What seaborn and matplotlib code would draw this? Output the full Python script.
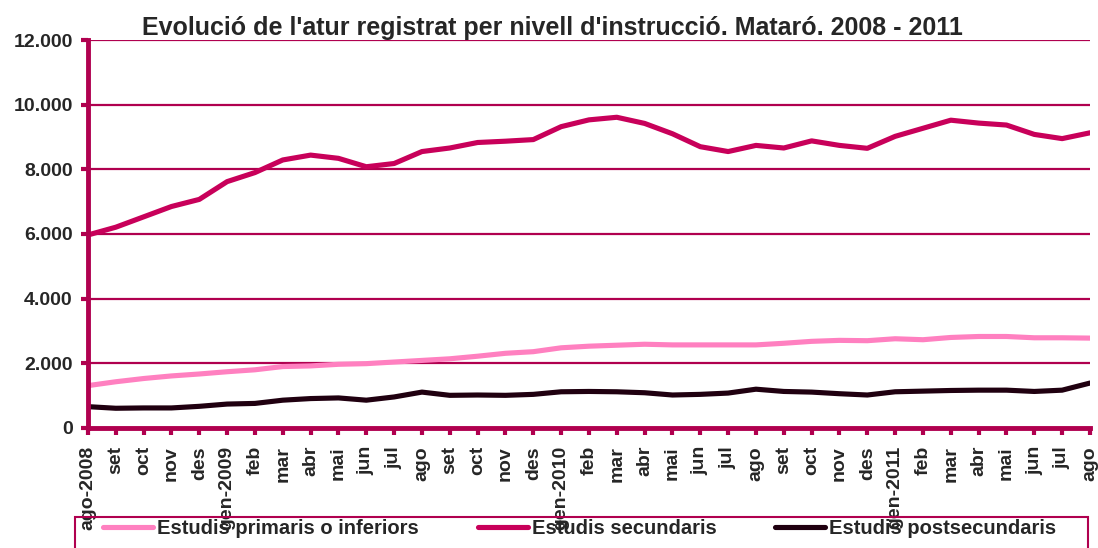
import matplotlib
matplotlib.use("Agg")
import pandas as pd
import seaborn as sns
import matplotlib.pyplot as plt
from matplotlib.patches import Rectangle

# ---------- Dades ----------
mesos = ["ago-2008", "set", "oct", "nov", "des",
         "gen-2009", "feb", "mar", "abr", "mai", "jun", "jul", "ago", "set", "oct", "nov", "des",
         "gen-2010", "feb", "mar", "abr", "mai", "jun", "jul", "ago", "set", "oct", "nov", "des",
         "gen-2011", "feb", "mar", "abr", "mai", "jun", "jul", "ago"]

primaris = [1310, 1430, 1530, 1610, 1670, 1740, 1800, 1900, 1920, 1970, 1990, 2040, 2090,
            2140, 2220, 2310, 2360, 2480, 2530, 2560, 2590, 2570, 2570, 2570, 2570, 2620,
            2680, 2710, 2700, 2760, 2730, 2800, 2830, 2830, 2790, 2790, 2780]

secundaris = [5970, 6210, 6530, 6850, 7070, 7620, 7900, 8290, 8440, 8340, 8080, 8180, 8550,
              8660, 8830, 8870, 8920, 9320, 9530, 9610, 9420, 9100, 8700, 8550, 8740, 8660,
              8880, 8740, 8650, 9020, 9270, 9520, 9430, 9370, 9080, 8950, 9130]

postsecundaris = [660, 610, 620, 620, 670, 740, 760, 860, 910, 930, 860, 960, 1110,
                  1010, 1020, 1010, 1040, 1120, 1130, 1120, 1090, 1020, 1040, 1080, 1200,
                  1130, 1110, 1060, 1020, 1120, 1140, 1160, 1170, 1170, 1130, 1170, 1390]

series = ["Estudis primaris o inferiors", "Estudis secundaris", "Estudis postsecundaris"]
colors = ["#FF80C0", "#C8005A", "#200010"]

df = pd.DataFrame({
    "pos": list(range(len(mesos))) * 3,
    "valor": primaris + secundaris + postsecundaris,
    "serie": [series[0]] * len(mesos) + [series[1]] * len(mesos) + [series[2]] * len(mesos),
})

# ---------- Gràfic ----------
sns.set_style("white")
plt.rcParams["font.family"] = ["Liberation Sans", "DejaVu Sans"]
plt.rcParams["font.weight"] = "bold"

axis_col = "#B0004F"

fig = plt.figure(figsize=(10.98, 5.48), dpi=100)
ax = fig.add_axes([0.0801, 0.219, 0.9126, 0.708])

sns.lineplot(data=df, x="pos", y="valor", hue="serie", hue_order=series,
             palette=colors, linewidth=3.7, ax=ax, legend=True)

ax.set_xlim(0, len(mesos) - 1)
ax.set_ylim(0, 12000)
ax.set_yticks(range(0, 12001, 2000))
ax.set_yticklabels([f"{v:,}".replace(",", ".") for v in range(0, 12001, 2000)],
                   fontsize=14, fontweight="bold")
ax.set_xticks(range(len(mesos)))
ax.set_xticklabels(mesos, rotation=90, fontsize=14, fontweight="bold", va="top")
ax.set_xlabel("")
ax.set_ylabel("")

ax.grid(axis="y", color=axis_col, linewidth=1.6)
ax.set_axisbelow(True)
for side in ["top", "right"]:
    ax.spines[side].set_visible(False)
for side in ["left", "bottom"]:
    ax.spines[side].set_color(axis_col)
    ax.spines[side].set_linewidth(3.5)
ax.tick_params(axis="both", which="major", direction="out", length=5, width=3,
               color=axis_col, left=True, bottom=True)
ax.tick_params(axis="x", pad=8)
ax.tick_params(axis="y", pad=6)

fig.text(0.5027, 1 - 35 / 548, "Evolució de l'atur registrat per nivell d'instrucció. Mataró. 2008 - 2011",
         ha="center", va="baseline", fontsize=18, fontweight="bold")

handles, labels = ax.get_legend_handles_labels()
ax.get_legend().remove()
leg = fig.legend(handles, labels, ncol=3, loc="upper left",
                 bbox_to_anchor=(103 / 1098, 1 - 519 / 548),
                 frameon=False, prop={"size": 14.5, "weight": "bold"},
                 handlelength=2.5, handletextpad=0.2, columnspacing=2.9,
                 borderaxespad=0, borderpad=0)

# marc de la llegenda
fig.patches.append(Rectangle((75 / 1098, -0.05), (1088 - 75) / 1098, 0.05 + 1 - 517 / 548,
                             transform=fig.transFigure, fill=False,
                             edgecolor=axis_col, linewidth=1.5, zorder=0))

fig.savefig("out.png", dpi=100)
